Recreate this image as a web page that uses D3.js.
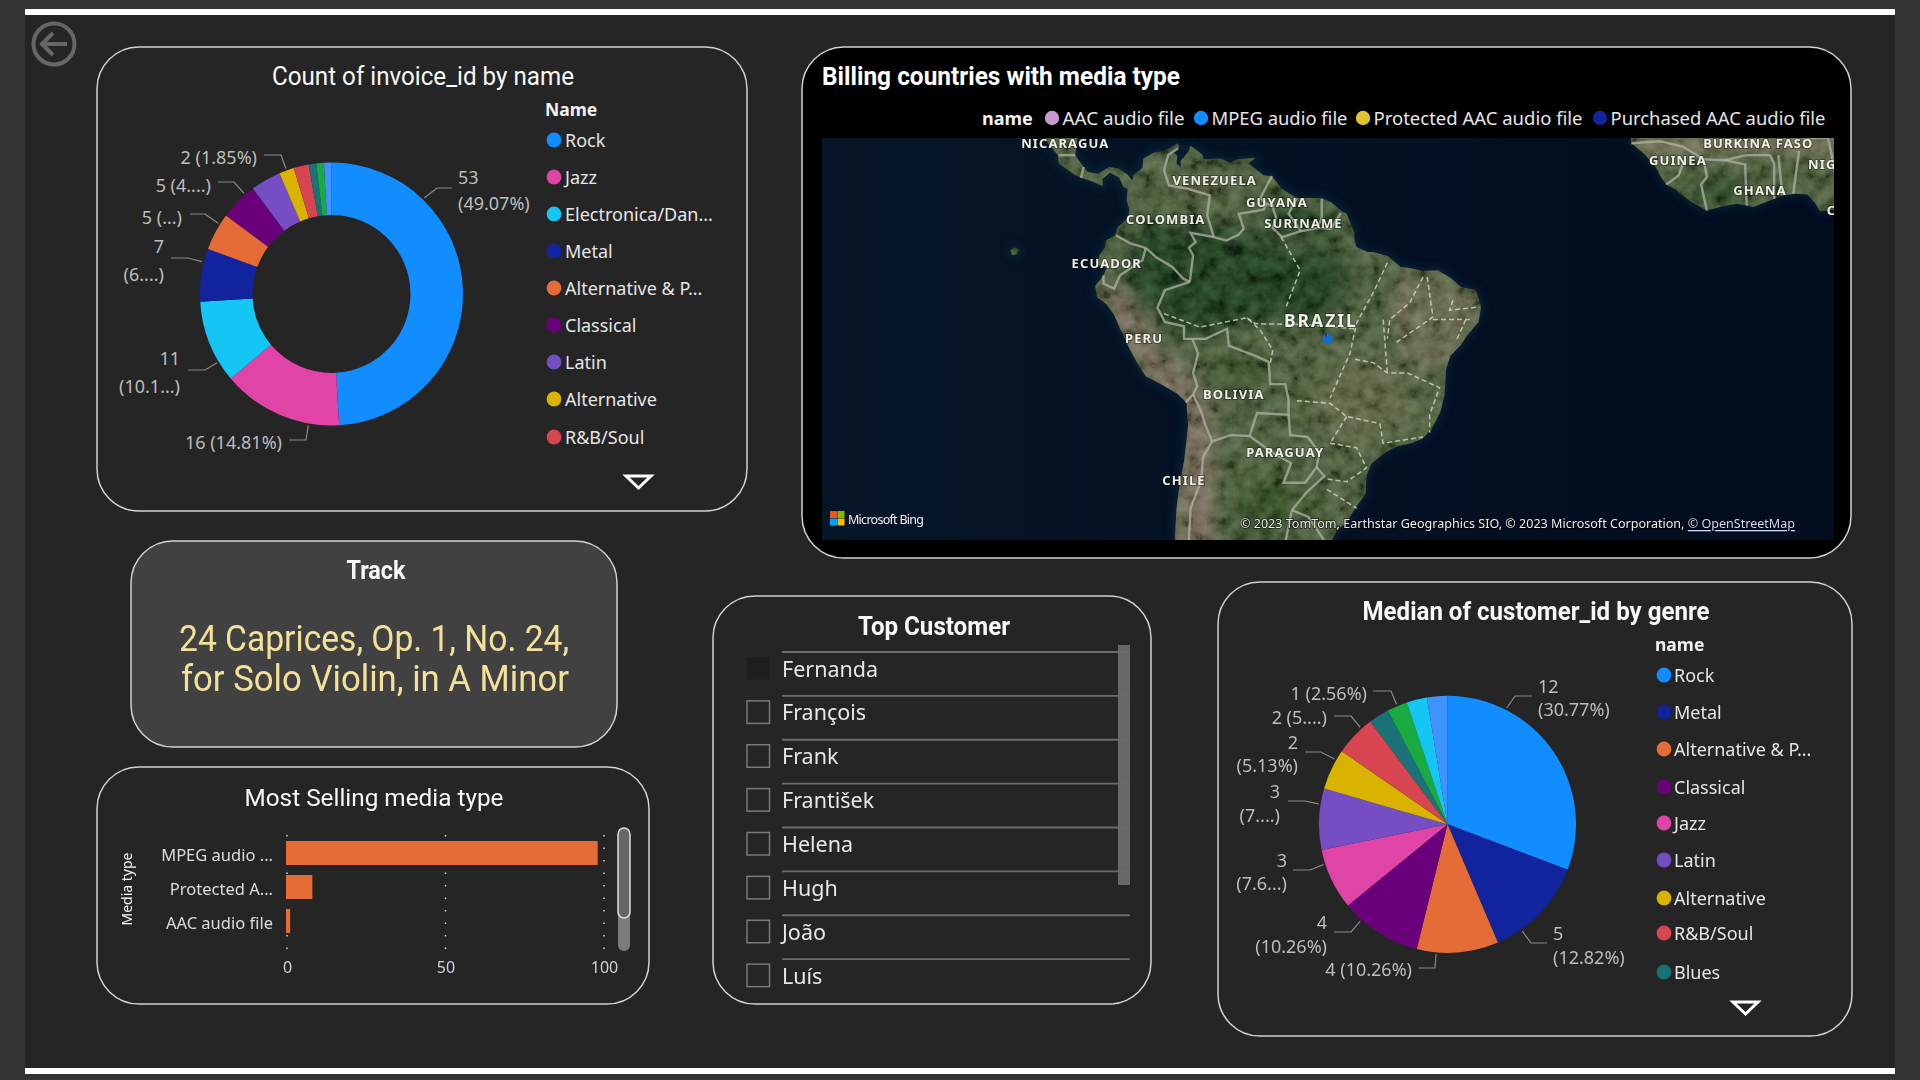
<!DOCTYPE html>
<html>
<head>
<meta charset="utf-8">
<title>Chinook dashboard</title>
<script src="https://cdn.jsdelivr.net/npm/d3@7"></script>
<style>
  html, body { margin: 0; padding: 0; background: #333; overflow: hidden; }
  svg { display: block; }
  text { font-family: "Noto Sans", sans-serif; }
  .din { font-family: Roboto, sans-serif; }
</style>
</head>
<body>
<div id="chart"></div>
<script>
// ---- data ----
const genreColors = {
    "Rock": "#118DFF", "Jazz": "#E044A7", "Electronica/Dan...": "#15C6F4", "Metal": "#12239E",
    "Alternative & P...": "#E66C37", "Classical": "#6B007B", "Latin": "#744EC2", "Alternative": "#D9B300",
    "R&B/Soul": "#D64550", "Blues": "#197278", "Other A": "#1AAB40", "Other B": "#4092FF", "Other C": "#15C6F4"
};

const donutNames = ["Rock", "Jazz", "Electronica/Dan...", "Metal", "Alternative & P...", "Classical", "Latin", "Alternative", "R&B/Soul", "Blues", "Other A", "Other B"];
const donutValues = [53, 16, 11, 7, 5, 5, 4, 2, 2, 1, 1, 1];
const donutLabels = [["53", "(49.07%)"], ["16 (14.81%)"], ["11", "(10.1...)"], ["7", "(6....)"], ["5 (...)"], ["5 (4....)"], ["2 (1.85%)"]];
const donutLegend = donutNames.slice(0, 9);

const pieNames = ["Rock", "Metal", "Alternative & P...", "Classical", "Jazz", "Latin", "Alternative", "R&B/Soul", "Blues", "Other A", "Other C", "Other B"];
const pieValues = [12, 5, 4, 4, 3, 3, 2, 2, 1, 1, 1, 1];
const pieLabels = [["12", "(30.77%)"], ["5", "(12.82%)"], ["4 (10.26%)"], ["4", "(10.26%)"], ["3", "(7.6...)"], ["3", "(7....)"], ["2", "(5.13%)"], ["2 (5....)"], ["1 (2.56%)"]];
const pieLegend = pieNames.slice(0, 9);

const mediaNames = ["MPEG audio ...", "Protected A...", "AAC audio file"];
const mediaValues = [98, 8, 1];
const mediaTicks = [0, 50, 100];

const customers = ["Fernanda", "François", "Frank", "František", "Helena", "Hugh", "João", "Luís"];
const trackLines = ["24 Caprices, Op. 1, No. 24,", "for Solo Violin, in A Minor"];

const mapLegendNames = ["AAC audio file", "MPEG audio file", "Protected AAC audio file", "Purchased AAC audio file"];
const mapLegendColors = ["#C49BCB", "#118DFF", "#E0C32F", "#12239E"];
const markerValues = [92, 6, 2];
const markerColors = ["#0F6FD0", "#12239E", "#E0A030"];
const markerLonLat = [-53.3, -11];

// rough map outlines, lon/lat
const southAmerica = [[-77.4,8.7],[-76.8,8],[-76.7,8.6],[-75.6,9.5],[-75.5,10.6],[-74.8,11],[-74.2,11.3],[-73,11.5],[-72.2,11.9],[-71.4,12.4],[-71.1,12],[-71.9,11.4],[-71.4,10.9],[-71.5,10],[-71,9.6],[-71,10.3],[-70.1,11.4],[-69.8,12.1],[-68.4,11.1],[-68.2,10.5],[-66.2,10.6],[-65,10.1],[-64.2,10.5],[-62,10.7],[-62.8,10],[-61,8.6],[-60,8.5],[-58.8,7],[-57.5,6.2],[-57,5.9],[-55.9,5.9],[-54,5.9],[-52.9,5.4],[-51.7,4.4],[-51,4],[-50.1,1.8],[-50,0.7],[-49.8,0],[-48.5,-0.6],[-47.8,-0.6],[-46,-1.1],[-44.5,-2.4],[-43.5,-2.5],[-41.8,-2.9],[-40,-2.8],[-38.5,-3.7],[-37.2,-4.8],[-35.4,-5.2],[-34.8,-7.2],[-35.1,-9],[-36.5,-10.6],[-37.3,-11.8],[-38.5,-13],[-39,-14.5],[-39.2,-17.5],[-39.7,-19.5],[-40.8,-21.5],[-41.9,-22.5],[-43.2,-23],[-44.8,-23.3],[-46.3,-24],[-48,-25.2],[-48.6,-26.5],[-48.7,-28.5],[-50,-30],[-51,-31.5],[-52.1,-32.2],[-53.2,-34],[-54.9,-35],[-58,-36],[-71,-36],[-71.7,-33],[-71.5,-30],[-71.2,-28],[-70.6,-25],[-70.4,-23.5],[-70.1,-21],[-70.3,-18.4],[-71.4,-17.4],[-73.2,-16.4],[-75.2,-15.4],[-76.2,-13.9],[-77.2,-12.1],[-78.2,-10],[-79,-8.2],[-79.9,-6.9],[-81.1,-6],[-81.3,-4.7],[-80.3,-3.4],[-79.9,-2.5],[-81,-2.2],[-80.8,-1],[-80.1,0],[-80,0.8],[-78.9,1.4],[-78.6,2.4],[-77.3,3.5],[-77.2,4.5],[-77.5,5.6],[-77.4,7],[-77.9,7.2],[-77.4,8.7]];
const centralAmerica = [[-87.7,14],[-83.3,14],[-83.7,11],[-83,10],[-82.2,9],[-81,8.8],[-79.6,9.6],[-78.5,9.4],[-77.4,8.7],[-77.2,7.9],[-77.9,7.2],[-78.4,8.3],[-79.5,8.9],[-80.4,8.2],[-80.4,7.3],[-81.7,7.9],[-83,8.3],[-83.7,8.6],[-85.7,10],[-85.8,11],[-87.7,13.3],[-87.7,14]];
const westAfrica = [[-17,15],[-16.8,13.3],[-16.7,12.4],[-15,11],[-13.7,9.5],[-13.2,8.5],[-12.5,7.5],[-11.4,6.9],[-9.5,5.4],[-7.6,4.4],[-6,4.8],[-4,5.2],[-2.8,5],[-2,4.8],[-1,5.2],[0.5,5.8],[1.5,6.2],[3,6.4],[4.5,6.3],[5.5,5.2],[6,4.3],[7,4.4],[8.5,4.6],[10,3.5],[10,15],[-17,15]];
const galapagos = [[-91.5,-0.4],[-91,0],[-90.4,-0.3],[-90.7,-0.9],[-91.3,-1]];

const terrainPatches = [
    { color: "#1d381a", ring: [[-76,3],[-68,3],[-60,1],[-52,-1],[-50,-4],[-54,-9],[-62,-9],[-70,-11],[-75,-8],[-78,-3]] },
    { color: "#1f3a1c", ring: [[-62,6],[-52,4],[-52,1],[-60,2]] },
    { color: "#4c5535", ring: [[-72,7],[-64,9],[-62,8],[-66,6],[-71,5]] },
    { color: "#5e5f45", ring: [[-45,-3],[-36,-5],[-35,-9],[-40,-15],[-44,-14],[-46,-8]] },
    { color: "#525b3d", ring: [[-52,-12],[-44,-14],[-42,-20],[-50,-24],[-56,-20]] },
    { color: "#6f6453", ring: [[-81,-5],[-78,-5],[-74,-12],[-70,-15],[-67,-20],[-67,-36],[-71.5,-36],[-71,-20],[-76,-14],[-79.5,-8]] },
    { color: "#2e4723", ring: [[-67,-13],[-61,-14],[-62,-17],[-66,-16]] },
    { color: "#2d4623", ring: [[-63,-27],[-58,-27],[-55,-30],[-60,-33],[-65,-33]] },
    { color: "#223d1e", ring: [[-10,8],[-3,8],[-3,5],[-9,5]] },
    { color: "#636349", ring: [[-17,15],[10,15],[10,11],[-17,11]] }
];

const countryBorders = [
    [[-71.3,11.8],[-72.5,11],[-73,9.2],[-72.4,7.4],[-70.1,7],[-67.5,6.2],[-67.8,3.8],[-67,1.2]],
    [[-67,1.2],[-65.5,0.8],[-64,1.5],[-63.4,2.2],[-64,4],[-61,4.5],[-60.7,5.2]],
    [[-60.7,5.2],[-61.4,5.9],[-60,8.5]],
    [[-60.7,5.2],[-59.9,5],[-59.8,4.4],[-59.5,3.5],[-59.9,2.3],[-58.8,1.2],[-56.5,1.9]],
    [[-56.5,1.9],[-58,4],[-57,5.9]],
    [[-54.5,2.3],[-54,3.6],[-54,5.8]],
    [[-56.5,1.9],[-54.5,2.3],[-52.9,2.2],[-51.7,4.1]],
    [[-67,1.2],[-69.8,1.7],[-69.2,0.6],[-70,-0.1],[-69.5,-1],[-69.9,-4.2]],
    [[-69.9,-4.2],[-70.7,-3.8],[-72,-2.4],[-74,-1.2],[-75.2,-0.1]],
    [[-75.2,-0.1],[-77,0.4],[-78.8,1.4]],
    [[-75.2,-0.1],[-75.6,-1.6],[-78.3,-3.4],[-79,-5],[-80.3,-4.4],[-80.3,-3.4]],
    [[-69.9,-4.2],[-72.9,-5.2],[-73.8,-7.3],[-72.9,-9],[-70.6,-9.5],[-70.6,-11],[-69.6,-11]],
    [[-69.6,-11],[-68,-11],[-65.4,-9.8],[-65.2,-11.8],[-62,-13],[-60.4,-13.7],[-60.2,-16.3],[-58.4,-16.3],[-58,-18]],
    [[-69.6,-11],[-68.9,-12.7],[-69.5,-15],[-69,-16.5],[-69.5,-17.5],[-70.4,-18.4]],
    [[-69.5,-17.5],[-68.5,-19.5],[-68,-21],[-67.2,-22.8]],
    [[-67.2,-22.8],[-68.3,-24.5],[-68.5,-27],[-69.8,-30],[-70,-33],[-70,-36]],
    [[-67.2,-22.8],[-65,-22.1],[-62.7,-22.2]],
    [[-62.7,-22.2],[-61.8,-19.6],[-58,-19.8],[-58,-18]],
    [[-62.7,-22.2],[-60,-24],[-57.7,-25.2],[-58.6,-27.3],[-56,-27.3],[-54.6,-25.6]],
    [[-58,-19.8],[-57.8,-22.1],[-55.7,-22.3],[-54.3,-24],[-54.6,-25.6]],
    [[-54.6,-25.6],[-53.7,-26.6],[-55.8,-28.3],[-57.6,-30.2]],
    [[-57.6,-30.2],[-55.6,-30.9],[-53.4,-33.7]],
    [[-57.6,-30.2],[-58.4,-33.5],[-58.4,-36]],
    [[-85.7,11],[-83.7,11]], [[-83,8.3],[-82.7,9.6]],
    [[-13,12.6],[-10.5,12],[-8,10.5],[-7.6,8.4],[-8.3,7.5],[-7.6,4.4]],
    [[-12.5,7.5],[-11,8.6],[-10.5,10]], [[-16.7,12.4],[-13.7,12.6],[-13,12.6]],
    [[-5.5,10.4],[-3,9.9],[-2.8,5]], [[-2.8,11],[0,11],[0.5,10],[0.5,5.8]], [[1.5,6.2],[1,11]], [[2.8,6.4],[3.5,11.5]],
    [[-8,10.5],[-5.5,10.4],[-2.8,11]], [[4,13],[7,13],[8.7,5]]
];

const stateBorders = [
    [[-73,-8],[-68.7,-9.6],[-63,-8.5],[-61.4,-10],[-59.9,-12.3],[-60.2,-13.9]],
    [[-63,-8.5],[-62,-9.2],[-56,-9.3],[-50,-9.8]],
    [[-58.9,1.2],[-56.6,-2.8],[-58.3,-7.2]],
    [[-46.1,-1.9],[-47.8,-5.5],[-49.8,-9.1],[-50.6,-12.7],[-53,-17.9]],
    [[-57,-18.2],[-53,-18.5],[-51,-20],[-47,-20.8]],
    [[-51,-20],[-53,-23]],
    [[-50,-13.4],[-47.8,-13.8],[-46.1,-15],[-43.7,-15],[-39.8,-16.7],[-41,-19.8],[-41,-21.8]],
    [[-46.6,-8.7],[-46.1,-15]],
    [[-41.8,-3.6],[-43.4,-6.7],[-45.8,-8.7],[-46.1,-11]],
    [[-41.3,-3.6],[-40.6,-8.4],[-45,-11.4]],
    [[-38.2,-6.4],[-38.6,-7.6],[-35,-7.2]],
    [[-40.6,-8.7],[-35.8,-8.7]],
    [[-37.7,-11],[-36.5,-8.4]],
    [[-53,-23],[-49.8,-23.5],[-48.6,-25.7],[-51,-27.2],[-53.4,-26.9]],
    [[-47,-20.8],[-46.6,-23],[-41.8,-22.3]],
    [[-53.4,-28],[-49.8,-30]]
];

const mapLabels = [
    { name: "NICARAGUA", lon: -84.9, lat: 12.4 }, { name: "VENEZUELA", lon: -66.9, lat: 8 },
    { name: "GUYANA", lon: -59.4, lat: 5.4 }, { name: "SURINAME", lon: -56.2, lat: 2.9 },
    { name: "COLOMBIA", lon: -72.8, lat: 3.4 }, { name: "ECUADOR", lon: -79.9, lat: -1.9 },
    { name: "PERU", lon: -75.4, lat: -10.9 }, { name: "BOLIVIA", lon: -64.6, lat: -17.4 },
    { name: "PARAGUAY", lon: -58.4, lat: -24 }, { name: "CHILE", lon: -70.6, lat: -27 },
    { name: "BURKINA FASO", lon: -1.4, lat: 12.4 }, { name: "GUINEA", lon: -11.1, lat: 10.4 },
    { name: "NIG", lon: 6.3, lat: 9.95 }, { name: "GHANA", lon: -1.2, lat: 6.9 }, { name: "C", lon: 7.4, lat: 4.4 },
    { name: "BRAZIL", lon: -54.1, lat: -8.75, big: true }
];

// ---- layout of the label leaders (angle on the ring, then elbow and text spots) ----
const donutLeaders = [
    { ang: 44, elbow: [437, 188], tail: 452, textX: 458, anchor: "start", ys: [177, 203] },
    { ang: 190, elbow: [306, 440], tail: 289, textX: 282, anchor: "end", ys: [442] },
    { ang: 239, elbow: [205, 370], tail: 188, textX: 180, anchor: "end", ys: [358, 386] },
    { ang: 284, elbow: [188, 258], tail: 171, textX: 164, anchor: "end", ys: [246, 274] },
    { ang: 302, elbow: [205, 214], tail: 190, textX: 182, anchor: "end", ys: [217] },
    { ang: 319, elbow: [234, 182], tail: 218, textX: 211, anchor: "end", ys: [185] },
    { ang: 340, elbow: [281, 155], tail: 264, textX: 257, anchor: "end", ys: [157] }
];
const pieLeaders = [
    { ang: 27, elbow: [1515, 696], tail: 1532, textX: 1538, anchor: "start", ys: [686, 709] },
    { ang: 145, elbow: [1531, 943], tail: 1547, textX: 1553, anchor: "start", ys: [933, 957] },
    { ang: 185, elbow: [1435, 968], tail: 1419, textX: 1412, anchor: "end", ys: [969] },
    { ang: 222, elbow: [1351, 932], tail: 1334, textX: 1327, anchor: "end", ys: [922, 946] },
    { ang: 252, elbow: [1310, 870], tail: 1293, textX: 1287, anchor: "end", ys: [860, 883] },
    { ang: 279, elbow: [1305, 801], tail: 1288, textX: 1280, anchor: "end", ys: [791, 815] },
    { ang: 300, elbow: [1321, 752], tail: 1305, textX: 1298, anchor: "end", ys: [742, 765] },
    { ang: 318, elbow: [1351, 716], tail: 1334, textX: 1327, anchor: "end", ys: [717] },
    { ang: 337, elbow: [1391, 691], tail: 1373, textX: 1367, anchor: "end", ys: [693] }
];

// ---- page ----
const svg = d3.select("#chart").append("svg").attr("width", 1920).attr("height", 1080);
const defs = svg.append("defs");

svg.append("rect").attr("width", 1920).attr("height", 1080).attr("fill", "#333333");
svg.append("rect").attr("x", 25).attr("y", 9).attr("width", 1870).attr("height", 1065).attr("fill", "#252525");
svg.append("rect").attr("x", 25).attr("y", 9).attr("width", 1870).attr("height", 6).attr("fill", "#fff");
svg.append("rect").attr("x", 25).attr("y", 1068).attr("width", 1870).attr("height", 6).attr("fill", "#fff");

// back button
const back = svg.append("g").attr("fill", "none").attr("stroke", "#666").attr("stroke-width", 4);
back.append("circle").attr("cx", 54).attr("cy", 44).attr("r", 20.5);
back.append("path").attr("d", d3.line()([[67, 44], [42, 44]]));
back.append("path").attr("d", d3.line()([[53, 33], [42, 44], [53, 55]]));

function panel(x, y, w, h, r, fill) {
    svg.append("rect").attr("x", x).attr("y", y).attr("width", w).attr("height", h).attr("rx", r).attr("ry", r)
        .attr("fill", fill).attr("stroke", "#d2d2d2").attr("stroke-width", 1.5);
}

function dinText(str, cx, cy, width, size, weight, color, anchor) {
    return svg.append("text").attr("class", "din").attr("x", cx).attr("y", cy)
        .attr("text-anchor", anchor || "middle").attr("dominant-baseline", "central")
        .attr("font-size", size).attr("font-weight", weight).attr("fill", color || "#f7f7f7")
        .attr("textLength", width).attr("lengthAdjust", "spacingAndGlyphs").text(str);
}

function drawRing(names, values, cx, cy, outer, inner, labels, leaders) {
    const pie = d3.pie().sort(null).value(d => d)(values);
    const arc = d3.arc().innerRadius(inner).outerRadius(outer);
    const g = svg.append("g").attr("transform", `translate(${cx},${cy})`);
    g.selectAll("path").data(pie).join("path")
        .attr("d", arc)
        .attr("fill", (d, i) => genreColors[names[i]]);

    const line = d3.line();
    leaders.forEach((l, i) => {
        const a = l.ang * Math.PI / 180;
        const start = [cx + (outer + 2) * Math.sin(a), cy - (outer + 2) * Math.cos(a)];
        svg.append("path").attr("d", line([start, l.elbow, [l.tail, l.elbow[1]]]))
            .attr("fill", "none").attr("stroke", "#8a8a8a").attr("stroke-width", 1.2);
        labels[i].forEach((t, j) => {
            svg.append("text").attr("x", l.textX).attr("y", l.ys[j])
                .attr("text-anchor", l.anchor).attr("dominant-baseline", "central")
                .attr("font-size", 18).attr("fill", "#bdbdbd").text(t);
        });
    });
}

function legend(names, title, titleX, dotX, textX, rowY) {
    svg.append("text").attr("x", titleX).attr("y", rowY[0] - (rowY[1] - rowY[0]) * 0.85)
        .attr("dominant-baseline", "central").attr("font-size", 17.5).attr("font-weight", 700)
        .attr("fill", "#f2f2f2").text(title);
    const row = svg.append("g").selectAll("g").data(names).join("g");
    row.append("circle").attr("cx", dotX).attr("cy", (d, i) => rowY[i]).attr("r", 7.4)
        .attr("fill", d => genreColors[d]);
    row.append("text").attr("x", textX).attr("y", (d, i) => rowY[i])
        .attr("dominant-baseline", "central").attr("font-size", 18).attr("fill", "#e6e6e6").text(d => d);
}

function downArrow(cx, top, w, h) {
    const line = d3.line().curve(d3.curveLinearClosed);
    svg.append("path").attr("d", line([[cx - w / 2, top], [cx + w / 2, top], [cx, top + h]]))
        .attr("fill", "none").attr("stroke", "#fff").attr("stroke-width", 3);
}

// ---- donut panel ----
panel(97, 47, 650, 464, 42, "#252525");
dinText("Count of invoice_id by name", 423, 76, 302, 25.5, 400);
drawRing(donutNames, donutValues, 331.5, 294, 131.5, 79, donutLabels, donutLeaders);
legend(donutLegend, "Name", 545, 554, 565, [140, 177, 214, 251, 288, 325, 362, 399, 437]);
downArrow(638.5, 476, 25, 12);

// ---- map panel ----
panel(802, 47, 1049, 511, 42, "#000");
dinText("Billing countries with media type", 822, 75, 358, 26.5, 700, "#fff", "start");
svg.append("text").attr("x", 982).attr("y", 118).attr("dominant-baseline", "central")
    .attr("font-size", 18).attr("font-weight", 700).attr("fill", "#f2f2f2").text("name");
const mapLegendX = [1052, 1201, 1363, 1600];
const mapLegendW = [122, 136, 209, 215];
mapLegendNames.forEach((n, i) => {
    svg.append("circle").attr("cx", mapLegendX[i]).attr("cy", 118).attr("r", 7.2).attr("fill", mapLegendColors[i]);
    svg.append("text").attr("x", mapLegendX[i] + 10.5).attr("y", 118).attr("dominant-baseline", "central")
        .attr("font-size", 18).attr("fill", "#e6e6e6")
        .attr("textLength", mapLegendW[i]).attr("lengthAdjust", "spacingAndGlyphs").text(n);
});

const mapX = 822, mapY = 138, mapW = 1012, mapH = 402;
const projection = d3.geoMercator().scale(475.6).translate([1770, 247]);
// the rings are rough and hand typed, so they go straight through the projection
const ringPath = ring => d3.line()(ring.map(p => projection(p))) + "Z";
const linePath = pts => d3.line()(pts.map(p => projection(p)));
const landRings = [southAmerica, centralAmerica, westAfrica, galapagos];
const landD = landRings.map(ringPath).join(" ");

defs.append("clipPath").attr("id", "mapClip").append("rect")
    .attr("x", mapX).attr("y", mapY).attr("width", mapW).attr("height", mapH);
defs.append("clipPath").attr("id", "landClip").append("path").attr("d", landD);
const blur = defs.append("filter").attr("id", "blur").attr("x", "-20%").attr("y", "-20%").attr("width", "140%").attr("height", "140%");
blur.append("feGaussianBlur").attr("stdDeviation", 9);
const shelf = defs.append("filter").attr("id", "shelf").attr("x", "-20%").attr("y", "-20%").attr("width", "140%").attr("height", "140%");
shelf.append("feGaussianBlur").attr("stdDeviation", 4);
const soft = defs.append("filter").attr("id", "soft");
soft.append("feGaussianBlur").attr("stdDeviation", 0.6);

// grey noise, laid over the land for a satellite look
const terrain = defs.append("filter").attr("id", "terrain").attr("x", 0).attr("y", 0).attr("width", "100%").attr("height", "100%");
terrain.append("feTurbulence").attr("type", "fractalNoise").attr("baseFrequency", 0.07).attr("numOctaves", 5).attr("seed", 11);
terrain.append("feColorMatrix").attr("type", "matrix")
    .attr("values", "1.6 0 0 0 -0.35  1.6 0 0 0 -0.35  1.6 0 0 0 -0.35  0 0 0 0 1");

const oceanGrad = defs.append("linearGradient").attr("id", "ocean");
oceanGrad.append("stop").attr("offset", "0%").attr("stop-color", "#061527");
oceanGrad.append("stop").attr("offset", "100%").attr("stop-color", "#020c1f");

const map = svg.append("g").attr("clip-path", "url(#mapClip)");
map.append("rect").attr("x", mapX).attr("y", mapY).attr("width", mapW).attr("height", mapH).attr("fill", "url(#ocean)");
map.append("path").attr("d", landD).attr("fill", "#0d2a3d").attr("stroke", "#0d2a3d").attr("stroke-width", 6)
    .attr("filter", "url(#shelf)").attr("opacity", 0.6);
const land = map.append("g").attr("clip-path", "url(#landClip)");
land.append("rect").attr("x", mapX).attr("y", mapY).attr("width", mapW).attr("height", mapH).attr("fill", "#445535");
land.append("g").attr("filter", "url(#blur)").selectAll("path").data(terrainPatches).join("path")
    .attr("d", d => ringPath(d.ring)).attr("fill", d => d.color);
land.append("rect").attr("x", mapX).attr("y", mapY).attr("width", mapW).attr("height", mapH)
    .attr("filter", "url(#terrain)").attr("opacity", 0.55).style("mix-blend-mode", "soft-light");

map.append("g").attr("filter", "url(#soft)").selectAll("path").data(countryBorders).join("path")
    .attr("d", linePath).attr("fill", "none").attr("stroke", "#b0b3a6").attr("stroke-width", 2.4).attr("opacity", 0.75);
map.append("g").attr("filter", "url(#soft)").selectAll("path").data(stateBorders).join("path")
    .attr("d", linePath).attr("fill", "none").attr("stroke", "#d8d8c6").attr("stroke-width", 1.5)
    .attr("stroke-dasharray", "5 3").attr("opacity", 0.8);

map.selectAll("text.country").data(mapLabels).join("text").attr("class", "country")
    .attr("x", d => projection([d.lon, d.lat])[0]).attr("y", d => projection([d.lon, d.lat])[1])
    .attr("text-anchor", "middle").attr("dominant-baseline", "central")
    .attr("font-family", "'Open Sans', sans-serif").attr("font-weight", 700)
    .attr("font-size", d => d.big ? 17.5 : 13).attr("letter-spacing", d => d.big ? 2 : 1.1)
    .attr("fill", "#efefe8").attr("stroke", "#000").attr("stroke-opacity", 0.35).attr("stroke-width", 2)
    .style("paint-order", "stroke").text(d => d.name);

// the one bubble on the map, a tiny pie
const markerPos = projection(markerLonLat);
map.append("g").attr("transform", `translate(${markerPos[0]},${markerPos[1]})`)
    .selectAll("path").data(d3.pie().sort(null)(markerValues)).join("path")
    .attr("d", d3.arc().innerRadius(0).outerRadius(5))
    .attr("fill", (d, i) => markerColors[i]);

// bing logo and credits
const logoColors = ["#F25022", "#7FBA00", "#00A4EF", "#FFB900"];
logoColors.forEach((c, i) => {
    svg.append("rect").attr("x", 830 + (i % 2) * 7.5).attr("y", 511 + Math.floor(i / 2) * 7.5)
        .attr("width", 7).attr("height", 7).attr("fill", c);
});
svg.append("text").attr("x", 848).attr("y", 519).attr("dominant-baseline", "central")
    .attr("font-size", 12.5).attr("fill", "#f0f0f0").attr("textLength", 76).text("Microsoft Bing");
const credit = svg.append("text").attr("x", 1240).attr("y", 523).attr("dominant-baseline", "central")
    .attr("font-family", "'Liberation Sans', sans-serif").attr("font-size", 13.2).attr("fill", "#eee")
    .attr("stroke", "#000").attr("stroke-width", 1.5).attr("stroke-opacity", 0.7).style("paint-order", "stroke")
    .attr("textLength", 555).attr("lengthAdjust", "spacingAndGlyphs");
credit.append("tspan").text("© 2023 TomTom, Earthstar Geographics SIO, © 2023 Microsoft Corporation, ");
credit.append("tspan").attr("fill", "#cfd8ff").attr("text-decoration", "underline").text("© OpenStreetMap");

// ---- track card ----
panel(131, 541, 486, 206, 42, "#414141");
dinText("Track", 376, 570, 59, 25.5, 700);
dinText(trackLines[0], 374, 638, 390, 37, 400, "#F3E09A");
dinText(trackLines[1], 375, 678, 388, 37, 400, "#F3E09A");

// ---- bar panel ----
panel(97, 767, 552, 237, 42, "#252525");
dinText("Most Selling media type", 374, 797, 259, 24.5, 400);

const x = d3.scaleLinear().domain([0, 100]).range([287, 604]);
const y = d3.scaleBand().domain(mediaNames).range([836, 938]).paddingInner(0.294).paddingOuter(0.147);

svg.append("g").selectAll("line").data(mediaTicks).join("line")
    .attr("x1", d => x(d)).attr("x2", d => x(d)).attr("y1", 835).attr("y2", 952)
    .attr("stroke", "#d8d8d8").attr("stroke-width", 1.5).attr("stroke-dasharray", "1.5 11");
svg.append("g").selectAll("rect").data(mediaValues).join("rect")
    .attr("x", x(0) - 1).attr("y", (d, i) => y(mediaNames[i])).attr("height", y.bandwidth())
    .attr("width", d => x(d) - x(0) + 1).attr("fill", "#E66C37");

const xAxis = svg.append("g").attr("transform", "translate(0,957)")
    .call(d3.axisBottom(x).tickValues(mediaTicks).tickSize(0).tickPadding(0));
xAxis.select(".domain").remove();
xAxis.selectAll("text").attr("font-size", 16).attr("font-family", "'Noto Sans', sans-serif").attr("fill", "#c9d4dc")
    .attr("dy", 0).attr("y", 10).attr("dominant-baseline", "central");

const yAxis = svg.append("g").attr("transform", "translate(273,0)")
    .call(d3.axisLeft(y).tickSize(0).tickPadding(0));
yAxis.select(".domain").remove();
yAxis.selectAll("text").attr("font-size", 16.5).attr("font-family", "'Noto Sans', sans-serif").attr("fill", "#dcdcdc")
    .attr("dy", "0.5em");

svg.append("text").attr("transform", "translate(126,889) rotate(-90)").attr("text-anchor", "middle")
    .attr("dominant-baseline", "central").attr("font-size", 14).attr("fill", "#f5f5f5").text("Media type");

// scrollbar of the bar chart
svg.append("rect").attr("x", 618).attr("y", 828).attr("width", 12).attr("height", 123).attr("rx", 6).attr("fill", "#7d7d7d");
svg.append("rect").attr("x", 618).attr("y", 828).attr("width", 12).attr("height", 90).attr("rx", 6)
    .attr("fill", "#666").attr("stroke", "#e0e0e0").attr("stroke-width", 1.5);

// ---- slicer panel ----
panel(713, 596, 438, 408, 42, "#252525");
dinText("Top Customer", 934, 626, 152, 25.5, 700);

const rowY = d3.scaleBand().domain(customers).range([652, 1003]).paddingInner(0).paddingOuter(0);
const rows = svg.append("g").selectAll("g").data(customers).join("g")
    .attr("transform", d => `translate(0,${rowY(d)})`);
rows.append("line").attr("x1", 782).attr("x2", 1130).attr("y1", 0).attr("y2", 0)
    .attr("stroke", "#6c6c6c").attr("stroke-width", 1.8);
rows.append("rect").attr("x", 747).attr("y", 5).attr("width", 22.5).attr("height", 22.5)
    .attr("fill", (d, i) => i === 0 ? "#1e1e1e" : "none")
    .attr("stroke", (d, i) => i === 0 ? "none" : "#7a7a7a").attr("stroke-width", 1.5);
rows.append("text").attr("x", 782).attr("y", 16).attr("dominant-baseline", "central")
    .attr("font-size", 21.5).attr("fill", "#e8e8e8").text(d => d);
svg.append("rect").attr("x", 1118).attr("y", 645).attr("width", 12).attr("height", 240).attr("fill", "#6b6b69").attr("opacity", 0.95);

// ---- pie panel ----
panel(1218, 582, 634, 454, 42, "#252525");
dinText("Median of customer_id by genre", 1536, 611, 347, 25.5, 700);
drawRing(pieNames, pieValues, 1447.5, 824.3, 128.5, 0, pieLabels, pieLeaders);
legend(pieLegend, "name", 1655, 1664, 1674, [675, 712, 749, 787, 823, 860, 898, 933, 972]);
downArrow(1745.5, 1002, 25, 12);
</script>
</body>
</html>
